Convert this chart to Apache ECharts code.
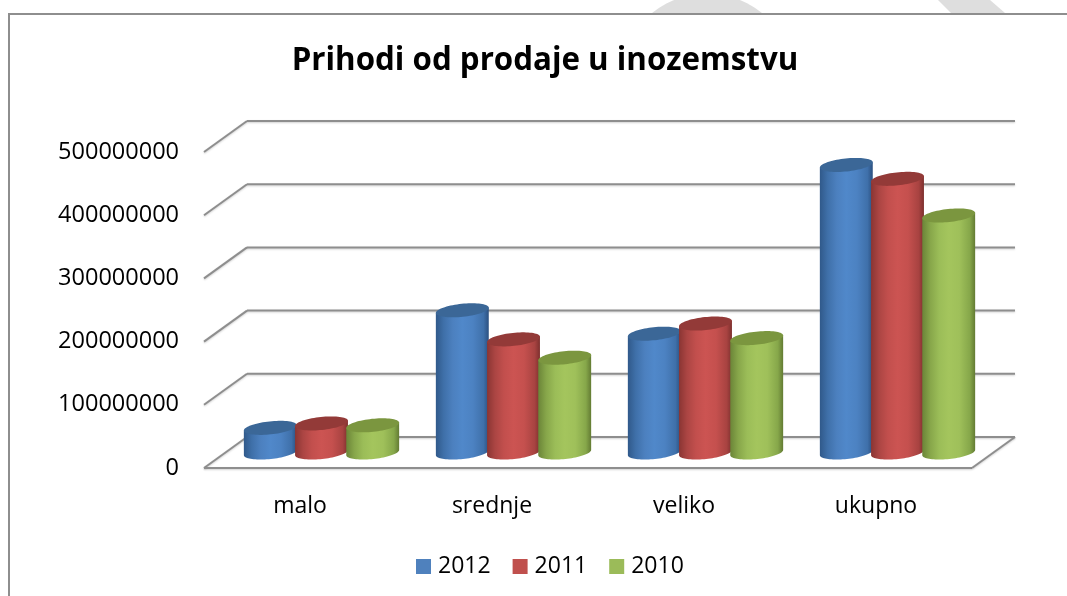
<!DOCTYPE html>
<html><head><meta charset="utf-8">
<style>html,body{margin:0;padding:0;background:#fff}#c{width:1067px;height:596px}</style>
<script src="https://cdn.jsdelivr.net/npm/echarts@6/dist/echarts.min.js"></script>
</head><body><div id="c"></div>
<script>
const titleText = 'Prihodi od prodaje u inozemstvu';
const categories = ['malo', 'srednje', 'veliko', 'ukupno'];
const yTicks = [0, 100000000, 200000000, 300000000, 400000000, 500000000];
const values2012 = [39000000, 225000000, 188000000, 455000000];
const values2011 = [46000000, 179000000, 204000000, 433000000];
const values2010 = [43000000, 150000000, 181000000, 375000000];

const FONT = '"Open Sans", sans-serif';
const DEPTH_X = 43, DEPTH_Y = -31;
const LINE = '#8e8e8e';
const lineShadow = {shadowColor: 'rgba(0,0,0,0.18)', shadowBlur: 2, shadowOffsetY: 1};
const palettes = {
  2012: {top: '#3b6797', legend: '#4f81bd',
    stops: ['#30598a', '#3f70a9', '#4c80bf', '#5088ca', '#4c82c2', '#3f70aa', '#2b5080']},
  2011: {top: '#933a38', legend: '#c0504d',
    stops: ['#8a3533', '#ab4543', '#c24f4d', '#cc5452', '#c5504e', '#a84341', '#7d302e']},
  2010: {top: '#7b963f', legend: '#9bbb59',
    stops: ['#6b8538', '#87a64a', '#9bbd58', '#a4c55d', '#9fc05a', '#86a74a', '#637b33']}
};
const STOP_POS = [0, 0.15, 0.32, 0.5, 0.7, 0.9, 1];

function ellipsePt(cx, cy, a, b, tilt, t) {
  const c = Math.cos(t), s = Math.sin(t), ct = Math.cos(tilt), st = Math.sin(tilt);
  return [cx + a * c * ct - b * s * st, cy + a * c * st + b * s * ct];
}
function cylinder(offset, year) {
  const pal = palettes[year];
  return function (params, api) {
    const top = api.coord([api.value(0), api.value(1)]);
    const base = api.coord([api.value(0), 0]);
    const a = 26.6, b = 6.5, tilt = -6 * Math.PI / 180;
    const cx = top[0] + offset * 51.2 + DEPTH_X / 2;
    const yT = top[1] + DEPTH_Y / 2, yB = base[1] + DEPTH_Y / 2;
    const body = [ellipsePt(cx, yT, a, b, tilt, Math.PI)];
    for (let i = 0; i <= 40; i++) body.push(ellipsePt(cx, yB, a, b, tilt, Math.PI - Math.PI * i / 40));
    body.push(ellipsePt(cx, yT, a, b, tilt, 0));
    const cap = [];
    for (let i = 0; i < 72; i++) cap.push(ellipsePt(cx, yT, a, b, tilt, 2 * Math.PI * i / 72));
    return {type: 'group', children: [
      {type: 'polygon', shape: {points: body}, style: {fill: {
        type: 'linear', x: 0, y: 0, x2: 1, y2: 0,
        colorStops: pal.stops.map((c, i) => ({offset: STOP_POS[i], color: c}))
      }}},
      {type: 'polygon', shape: {points: cap}, style: {fill: pal.top}}
    ]};
  };
}
function wall(params, api) {
  const cs = params.coordSys;
  const y = api.coord([0, api.value(1)])[1];
  const xL = cs.x, xR = cs.x + cs.width;
  const style = Object.assign({stroke: LINE, lineWidth: 2, fill: 'none'}, lineShadow);
  const kids = [
    {type: 'line', shape: {x1: xL, y1: y, x2: xL + DEPTH_X, y2: y + DEPTH_Y}, style},
    {type: 'line', shape: {x1: xL + DEPTH_X, y1: y + DEPTH_Y, x2: xR + DEPTH_X, y2: y + DEPTH_Y}, style}
  ];
  if (api.value(1) === 0) {
    kids.push({type: 'line', shape: {x1: xL, y1: y, x2: xR, y2: y}, style});
    kids.push({type: 'line', shape: {x1: xR, y1: y, x2: xR + DEPTH_X, y2: y + DEPTH_Y}, style});
  }
  return {type: 'group', children: kids};
}
const blob = [];
for (let i = 0; i <= 40; i++) {
  const t = Math.PI + 0.891 + (Math.PI - 1.782) * i / 40;
  blob.push([707 + 87.4 * Math.cos(t), 81 + 87.4 * Math.sin(t)]);
}

const chart = echarts.init(document.getElementById('c'));
chart.setOption({
  animation: false,
  backgroundColor: '#fff',
  title: {text: titleText, left: 540, top: 41, textAlign: 'center',
    textStyle: {fontFamily: FONT, fontSize: 31.3, fontWeight: 'bold', color: '#000'}},
  grid: {left: 204, right: 95, top: 152, bottom: 128, containLabel: false},
  xAxis: {type: 'category', data: categories, axisLine: {show: false}, axisTick: {show: false},
    splitLine: {show: false},
    axisLabel: {color: '#000', fontFamily: FONT, fontSize: 23, margin: 27}},
  yAxis: {type: 'value', min: 0, max: 500000000, interval: 100000000,
    axisLine: {show: false}, axisTick: {show: false}, splitLine: {show: false},
    axisLabel: {color: '#000', fontFamily: FONT, fontSize: 23.5, margin: 25,
      padding: [5, 0, 0, 0], formatter: v => String(v)}},
  legend: {left: 411, top: 550, itemWidth: 15, itemHeight: 15, itemGap: 22, icon: 'rect',
    textStyle: {fontFamily: FONT, fontSize: 23, color: '#000', padding: [0, 0, 0, 2]},
    data: ['2012', '2011', '2010']},
  graphic: [
    {type: 'polygon', silent: true, z: 0, style: {fill: '#dedede'}, shape: {points: blob}},
    {type: 'polygon', silent: true, z: 0, style: {fill: '#dedede'},
     shape: {points: [[938, 0], [990, 0], [1005, 13], [951, 13]]}},
    {type: 'polyline', silent: true, z: 0, style: {stroke: LINE, lineWidth: 2, fill: 'none'},
     shape: {points: [[9, 596], [9, 14], [1067, 14]]}}
  ],
  series: [
    {type: 'custom', name: 'wall', renderItem: wall, silent: true, clip: false, z: 1,
     data: yTicks.map(v => [0, v])},
    {type: 'custom', name: '2012', renderItem: cylinder(-1, 2012), clip: false, z: 2,
     itemStyle: {color: palettes[2012].legend},
     data: values2012.map((v, i) => [i, v])},
    {type: 'custom', name: '2011', renderItem: cylinder(0, 2011), clip: false, z: 3,
     itemStyle: {color: palettes[2011].legend},
     data: values2011.map((v, i) => [i, v])},
    {type: 'custom', name: '2010', renderItem: cylinder(1, 2010), clip: false, z: 4,
     itemStyle: {color: palettes[2010].legend},
     data: values2010.map((v, i) => [i, v])}
  ]
});
</script></body></html>
